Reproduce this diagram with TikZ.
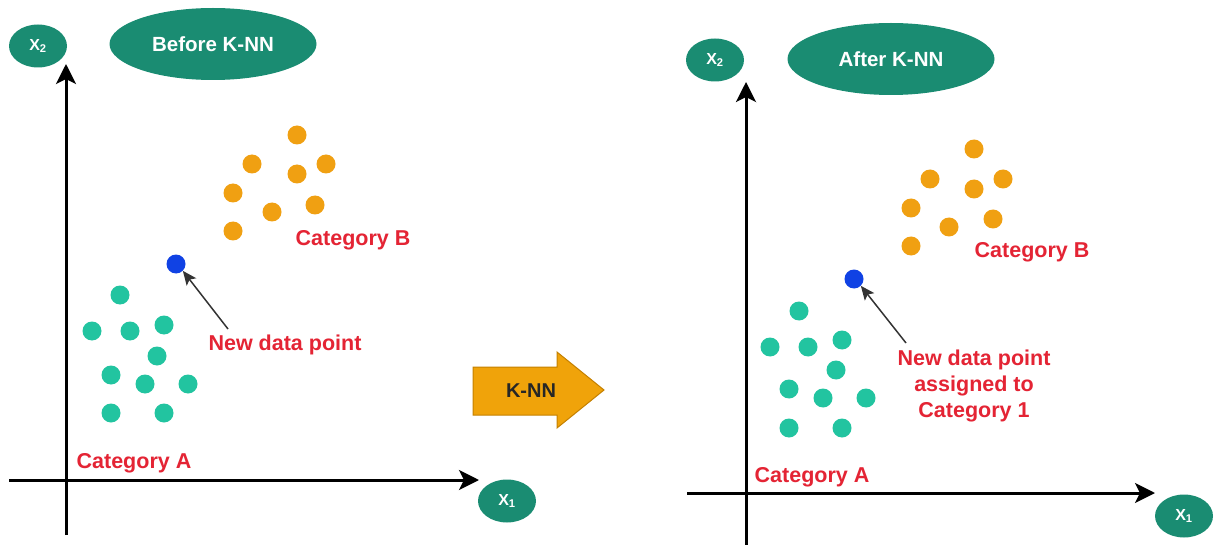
\documentclass[tikz,border=0pt]{standalone}
\usepackage{fontspec}
\setmainfont{Liberation Sans}
\usetikzlibrary{arrows.meta,shapes.geometric}
\definecolor{labelteal}{RGB}{26,140,114}
\definecolor{dotteal}{RGB}{34,196,160}
\definecolor{dotorange}{RGB}{240,160,18}
\definecolor{newblue}{RGB}{16,66,228}
\definecolor{catred}{RGB}{228,36,52}
\definecolor{knnfill}{RGB}{240,163,10}
\definecolor{knnedge}{RGB}{196,128,0}
\tikzset{
  axis/.style={line width=3pt,-{Stealth[length=20pt,width=20pt,inset=5pt]}},
  tag/.style={ellipse,fill=labelteal,text=white,inner sep=0pt,font=\bfseries\fontsize{20.5}{24}\selectfont},
  axtag/.style={ellipse,fill=labelteal,text=white,inner sep=0pt,minimum width=58pt,minimum height=43pt,font=\bfseries\fontsize{16}{18}\selectfont},
  dotA/.style={circle,fill=dotteal,inner sep=0pt,minimum size=19pt},
  dotB/.style={circle,fill=dotorange,inner sep=0pt,minimum size=19pt},
  newpt/.style={circle,fill=newblue,inner sep=0pt,minimum size=19pt},
  cat/.style={text=catred,inner sep=0pt,align=center,font=\bfseries\fontsize{21.5}{26}\selectfont},
  pointer/.style={line width=1.5pt,draw=black!80,-{Stealth[length=14pt,width=12pt,inset=3pt]}},
  knnbox/.style={fill=knnfill,draw=knnedge,line width=1pt,line join=miter}
}
\begin{document}
\begin{tikzpicture}[x=1pt,y=-1pt]
\useasboundingbox[fill=white] (0,0) rectangle (1214,545);

% ---------- left panel: before classification ----------
\node[axtag] (lx2) at (38,46) {X\textsubscript{2}};
\node[tag,minimum width=207pt,minimum height=72pt] (before) at (213,44) {Before K-NN};
\coordinate (lyb) at (66,535);
\coordinate (lyt) at (66,64);
\coordinate (lxl) at (9,480);
\coordinate (lxr) at (479,480);
\draw[axis] (lyb) -- (lyt);
\draw[axis] (lxl) -- (lxr);
\node[axtag] (lx1) at (507,501) {X\textsubscript{1}};

\foreach \n/\x/\y in {1/297/135,2/252/164,3/326/164,4/297/174,5/233/193,6/272/212,7/315/205,8/233/231}
  \node[dotB] (lb\n) at (\x,\y) {};
\foreach \n/\x/\y in {1/120/295,2/92/331,3/130/331,4/164/325,5/157/356,6/111/375,7/145/384,8/188/384,9/111/413,10/164/413}
  \node[dotA] (la\n) at (\x,\y) {};
\node[newpt] (lnew) at (176,264) {};

\node[cat] (lcatB) at (353,240) {Category B};
\node[cat] (lcatA) at (134,463) {Category A};
\node[cat] (lnewtxt) at (285,345) {New data point};
\coordinate (lptr) at (228,329);
\draw[pointer] (lptr) -- (lnew.south east);

% ---------- K-NN arrow ----------
\draw[knnbox] (473,367) -- (557,367) -- (557,352) -- (604,390) -- (557,428) -- (557,415) -- (473,415) -- cycle;
\node[font=\bfseries\fontsize{20}{24}\selectfont,text=black!85] (knn) at (531,391) {K-NN};

% ---------- right panel: after classification ----------
\node[axtag] (rx2) at (715,60) {X\textsubscript{2}};
\node[tag,minimum width=207pt,minimum height=72pt] (after) at (891,59) {After K-NN};
\coordinate (ryb) at (746,545);
\coordinate (ryt) at (746,82);
\coordinate (rxl) at (687,493);
\coordinate (rxr) at (1155,493);
\draw[axis] (ryb) -- (ryt);
\draw[axis] (rxl) -- (rxr);
\node[axtag] (rx1) at (1184,516) {X\textsubscript{1}};

\foreach \n/\x/\y in {1/974/149,2/930/179,3/1003/179,4/974/189,5/911/208,6/949/227,7/993/219,8/911/246}
  \node[dotB] (rb\n) at (\x,\y) {};
\foreach \n/\x/\y in {1/799/311,2/770/347,3/808/347,4/842/340,5/836/370,6/789/389,7/823/398,8/866/398,9/789/428,10/842/428}
  \node[dotA] (ra\n) at (\x,\y) {};
\node[newpt] (rnew) at (854,279) {};

\node[cat] (rcatB) at (1032,252) {Category B};
\node[cat] (rcatA) at (812,477) {Category A};
\node[cat] (rnewtxt) at (974,386) {New data point\\assigned to\\Category 1};
\coordinate (rptr) at (906,343);
\draw[pointer] (rptr) -- (rnew.south east);
\end{tikzpicture}
\end{document}
